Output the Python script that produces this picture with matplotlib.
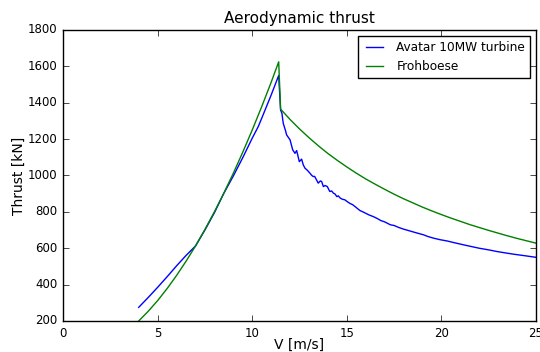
import matplotlib
matplotlib.use('Agg')
import matplotlib.pyplot as plt

plt.style.use('classic')

# wind speed [m/s] and thrust [kN]
v_avatar = [4.0, 4.5, 5.0, 5.5, 6.0, 6.5, 7.0, 7.5, 8.0, 8.5, 9.0, 9.5, 10.0,
            10.32, 10.5, 11.0, 11.4, 11.5, 11.57, 11.64, 11.75, 11.82, 12.0,
            12.14, 12.26, 12.35, 12.49, 12.61, 12.7, 12.79, 12.9, 13.05, 13.15,
            13.23, 13.3, 13.49, 13.6, 13.67, 13.76, 13.85, 13.97, 14.1, 14.2,
            14.29, 14.38, 14.47, 14.55, 14.64, 14.75, 14.9, 15.0, 15.17, 15.3,
            15.45, 15.6, 15.7, 15.85, 16.0, 16.2, 16.4, 16.6, 16.8, 17.0, 17.3,
            17.5, 17.75, 18.0, 18.17, 18.4, 18.7, 19.05, 19.3, 19.6, 19.93,
            20.3, 20.7, 21.16, 21.6, 22.0, 22.5, 22.93, 23.4, 23.9, 24.4, 25.0]
t_avatar = [275, 329, 385, 443, 503, 560, 612, 700, 795, 902, 997, 1098, 1205,
            1269, 1314, 1442, 1550, 1360, 1342, 1287, 1250, 1223, 1196,
            1141, 1122, 1137, 1076, 1090, 1058, 1040, 1030, 1013, 1000,
            994, 995, 958, 970, 967, 939, 945, 939, 912, 915,
            903, 898, 884, 888, 877, 870, 866, 858, 846, 840,
            828, 815, 807, 800, 792, 782, 774, 764, 752, 745, 729,
            725, 714, 705, 700, 693, 684, 674, 664, 655, 647,
            640, 630, 619, 609, 600, 591, 582, 574, 566, 559, 550]

v_frohboese = [4.0, 4.5, 5.0, 5.5, 6.0, 6.5, 7.0, 7.5, 8.0, 8.5, 9.0, 9.5,
               10.0, 10.5, 11.0, 11.4, 11.5, 12.0, 12.5, 13.0, 13.5, 14.0,
               14.5, 15.0, 15.5, 16.0, 16.5, 17.0, 17.5, 18.0, 18.5, 19.0,
               19.5, 20.0, 20.5, 21.0, 21.5, 22.0, 22.5, 23.0, 23.5, 24.0,
               24.5, 25.0]
t_frohboese = [200, 253, 312, 378, 450, 528, 612, 703, 800, 903, 1012, 1128,
               1250, 1378, 1512, 1625, 1365, 1308, 1256, 1208, 1163, 1121,
               1083, 1047, 1013, 981, 952, 924, 897, 872, 849, 826,
               805, 785, 766, 748, 730, 714, 698, 683, 668, 654,
               641, 628]

fig = plt.figure(figsize=(5.4, 3.52), dpi=100, facecolor='white')
ax = fig.add_axes([0.1167, 0.0881, 0.8759, 0.8267])

ax.plot(v_avatar, t_avatar, color='b', lw=1.0, label='Avatar 10MW turbine')
ax.plot(v_frohboese, t_frohboese, color='g', lw=1.0, label='Frohboese')

ax.set_xlim(0, 25)
ax.set_ylim(200, 1800)
ax.set_xticks([0, 5, 10, 15, 20, 25])
ax.set_yticks(range(200, 1801, 200))
ax.tick_params(labelsize=8.5)

ax.set_title('Aerodynamic thrust', fontsize=11)
ax.set_xlabel('V [m/s]', fontsize=10, labelpad=-1)
ax.set_ylabel('Thrust [kN]', fontsize=10, labelpad=1.5)

leg = ax.legend(loc='upper right', fontsize=8.7)
leg.get_frame().set_edgecolor('black')

fig.savefig('out.png', dpi=100, facecolor='white')
